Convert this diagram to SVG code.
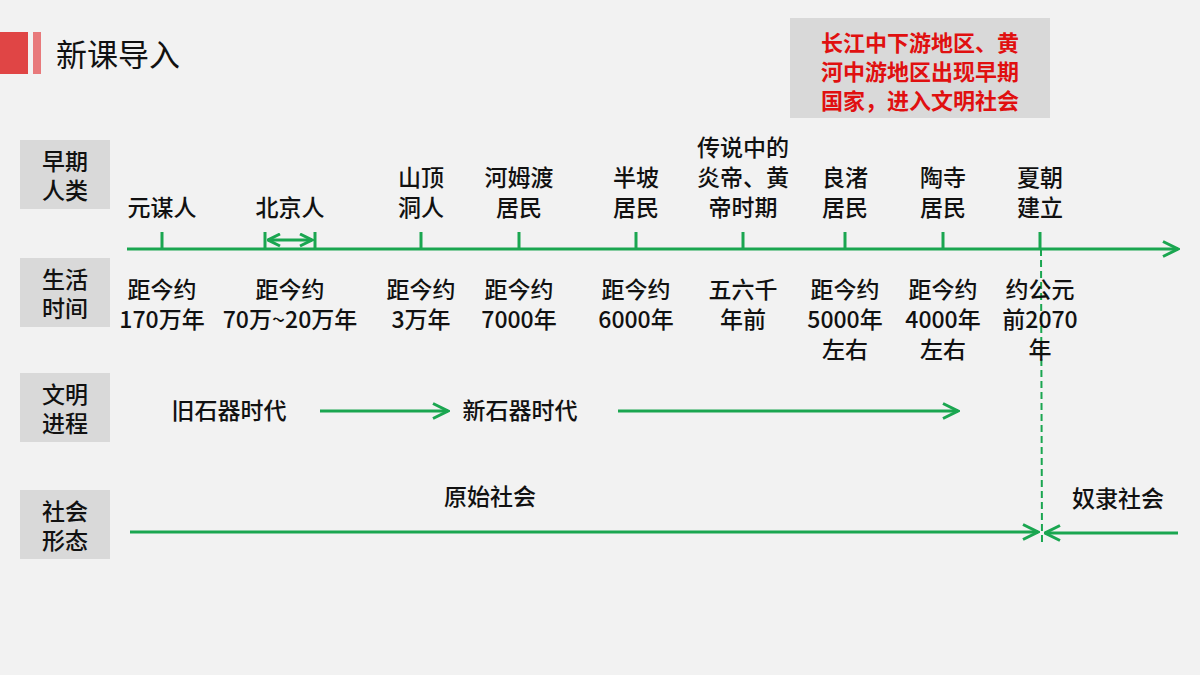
<svg xmlns="http://www.w3.org/2000/svg" width="1200" height="675" viewBox="0 0 1200 675">
<style>
text{font-family:"Noto Sans CJK SC","Liberation Sans",sans-serif;font-size:23px;fill:#111;text-anchor:middle;font-weight:500}
.g{stroke:#1aa650;stroke-width:3;fill:none}
.box{fill:#d9d9d9}
</style>
<defs>
<marker id="ah" viewBox="0 0 12 12" refX="11" refY="6" markerWidth="6" markerHeight="6" orient="auto-start-reverse" markerUnits="strokeWidth"><path d="M1,1 L11,6 L1,11" fill="none" stroke="#1aa650" stroke-width="2"/></marker>
<marker id="sm" viewBox="0 0 10 10" refX="9" refY="5" markerWidth="5" markerHeight="5" orient="auto-start-reverse" markerUnits="strokeWidth"><path d="M1,1 L9,5 L1,9" fill="none" stroke="#1aa650" stroke-width="2"/></marker>
</defs>
<rect width="1200" height="675" fill="#f2f2f2"/>
<g id="title">
<rect x="0" y="32" width="28" height="42" fill="#e04545"/>
<rect x="33" y="32" width="8" height="42" fill="#e8797b"/>
<text x="56" y="66" style="text-anchor:start;font-size:31px;font-weight:400">新课导入</text>
</g>
<g id="note">
<rect x="790" y="18" width="260" height="100" class="box"/>
<text x="920" y="51" style="fill:#e01010;font-weight:bold;font-size:22px">长江中下游地区、黄</text>
<text x="920" y="80" style="fill:#e01010;font-weight:bold;font-size:22px">河中游地区出现早期</text>
<text x="920" y="109" style="fill:#e01010;font-weight:bold;font-size:22px">国家，进入文明社会</text>
</g>
<g id="rowlabels">
<rect x="20" y="140" width="90" height="69" class="box"/><text x="65" y="170">早期</text><text x="65" y="199">人类</text>
<rect x="20" y="258" width="90" height="69" class="box"/><text x="65" y="288">生活</text><text x="65" y="317">时间</text>
<rect x="20" y="373" width="90" height="69" class="box"/><text x="65" y="403">文明</text><text x="65" y="432">进程</text>
<rect x="20" y="490" width="90" height="69" class="box"/><text x="65" y="520">社会</text><text x="65" y="549">形态</text>
</g>
<g id="connectors">
<line x1="127" y1="249" x2="1178" y2="249" class="g" marker-end="url(#ah)"/>
<path d="M162,232V249M265,232V249M315,232V249M421,232V249M519,232V249M636,232V249M743,232V249M845,232V249M943,232V249M1040,232V249" class="g"/>
<line x1="268" y1="240" x2="312" y2="240" class="g" stroke-width="2.5" marker-start="url(#sm)" marker-end="url(#sm)"/>
<line x1="320" y1="411" x2="448" y2="411" class="g" marker-end="url(#ah)"/>
<line x1="618" y1="411" x2="958" y2="411" class="g" marker-end="url(#ah)"/>
<line x1="130" y1="532" x2="1038" y2="532" class="g" marker-end="url(#ah)"/>
<line x1="1178" y1="533" x2="1045" y2="533" class="g" marker-end="url(#ah)"/>
<line x1="1041" y1="249" x2="1042" y2="546" stroke="#1aa650" stroke-width="2" stroke-dasharray="7,4"/>
</g>
<g id="people">
<text x="162" y="216">元谋人</text>
<text x="290" y="216">北京人</text>
<text x="421" y="186">山顶</text><text x="421" y="216">洞人</text>
<text x="519" y="186">河姆渡</text><text x="519" y="216">居民</text>
<text x="636" y="186">半坡</text><text x="636" y="216">居民</text>
<text x="743" y="156">传说中的</text><text x="743" y="186">炎帝、黄</text><text x="743" y="216">帝时期</text>
<text x="845" y="186">良渚</text><text x="845" y="216">居民</text>
<text x="943" y="186">陶寺</text><text x="943" y="216">居民</text>
<text x="1040" y="186">夏朝</text><text x="1040" y="216">建立</text>
</g>
<g id="times">
<text x="162" y="298">距今约</text><text x="162" y="328">170万年</text>
<text x="290" y="298">距今约</text><text x="290" y="328">70万~20万年</text>
<text x="421" y="298">距今约</text><text x="421" y="328">3万年</text>
<text x="519" y="298">距今约</text><text x="519" y="328">7000年</text>
<text x="636" y="298">距今约</text><text x="636" y="328">6000年</text>
<text x="743" y="298">五六千</text><text x="743" y="328">年前</text>
<text x="845" y="298">距今约</text><text x="845" y="328">5000年</text><text x="845" y="358">左右</text>
<text x="943" y="298">距今约</text><text x="943" y="328">4000年</text><text x="943" y="358">左右</text>
<text x="1040" y="298">约公元</text><text x="1040" y="328">前2070</text><text x="1040" y="358">年</text>
</g>
<g id="eras">
<text x="229" y="419">旧石器时代</text>
<text x="520" y="419">新石器时代</text>
<text x="490" y="505">原始社会</text>
<text x="1118" y="507">奴隶社会</text>
</g>
</svg>
